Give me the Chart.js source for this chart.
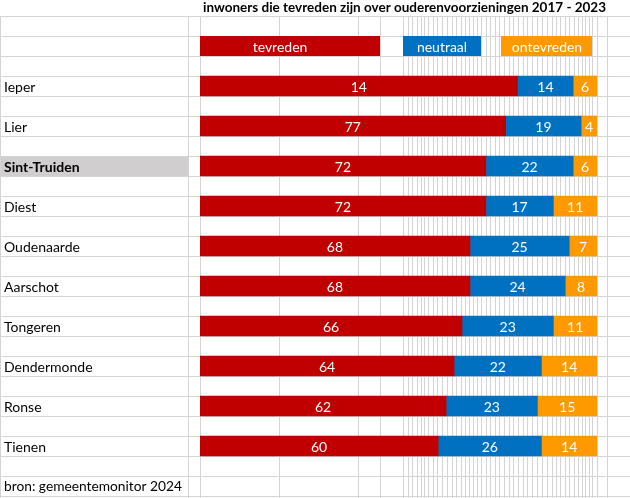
<!DOCTYPE html>
<html>
<head>
<meta charset="utf-8">
<script src="https://cdn.jsdelivr.net/npm/chart.js@4"></script>
<style>
  body { margin: 0; background: #fff; }
  canvas { display: block; }
</style>
</head>
<body>
<canvas id="myChart" width="630" height="498"></canvas>
<script>
const ctx = document.getElementById("myChart").getContext("2d");

const title = "inwoners die tevreden zijn over ouderenvoorzieningen 2017 - 2023";
const source = "bron: gemeentemonitor 2024";
const cities = ["Ieper", "Lier", "Sint-Truiden", "Diest", "Oudenaarde", "Aarschot", "Tongeren", "Dendermonde", "Ronse", "Tienen"];
const seriesNames = ["tevreden", "neutraal", "ontevreden"];
const tevreden = [80, 77, 72, 72, 68, 68, 66, 64, 62, 60];
// the sheet shows "14" on the Ieper bar, keep the shown text as is
const tevredenLabels = ["14", "77", "72", "72", "68", "68", "66", "64", "62", "60"];
const neutraal = [14, 19, 22, 17, 25, 24, 23, 22, 23, 26];
const ontevreden = [6, 4, 6, 11, 7, 8, 11, 14, 15, 14];
const highlight = "Sint-Truiden";

const colors = ["#C00000", "#0070C0", "#FF9900"];
const font = "Lato, 'Open Sans', sans-serif";

// spreadsheet look: cell borders
const colLines = [0, 188, 200, 279, 358, 380, 403, 408, 412, 417, 421, 424, 428, 433, 437, 442, 447, 452, 456, 461, 465, 469, 473, 477, 481, 486, 490, 495, 499, 504, 509, 513, 518, 523, 527, 532, 537, 542, 547, 552, 556, 560, 565, 569, 574, 578, 582, 585, 589, 592, 597, 607];

function fitFont(c, text, weight, width, maxSize) {
  let size = maxSize;
  c.font = weight + " " + size + "px " + font;
  while (c.measureText(text).width > width && size > 8) {
    size -= 0.25;
    c.font = weight + " " + size + "px " + font;
  }
}

const sheetPlugin = {
  id: "sheet",
  beforeDraw(chart) {
    const c = chart.ctx;
    const yScale = chart.scales.y;
    c.save();
    c.fillStyle = "#fff";
    c.fillRect(0, 0, chart.width, chart.height);

    // highlighted city cell
    const hi = cities.indexOf(highlight);
    const hy = yScale.getPixelForValue(hi);
    c.fillStyle = "#D0CECE";
    c.fillRect(0, hy - 10, 188, 20);

    c.strokeStyle = "#D4D4D4";
    c.lineWidth = 1;
    c.beginPath();
    for (let y = 16; y < chart.height; y += 20) {
      c.moveTo(0, y + 0.5);
      c.lineTo(chart.width, y + 0.5);
    }
    colLines.forEach((x) => {
      c.moveTo(x + 0.5, 16);
      c.lineTo(x + 0.5, chart.height);
    });
    c.stroke();

    // title row
    c.fillStyle = "#000";
    c.textBaseline = "middle";
    c.textAlign = "left";
    fitFont(c, title, "bold", 410, 15);
    c.fillText(title, 203, 8);

    // legend cells
    const legendCells = [[200, 380, 280], [403, 481, 442], [501, 592, 547]];
    legendCells.forEach((cell, i) => {
      c.fillStyle = colors[i];
      c.fillRect(cell[0], 36, cell[1] - cell[0], 20);
      c.fillStyle = "#fff";
      c.textAlign = "center";
      c.font = "14px " + font;
      c.fillText(seriesNames[i], cell[2], 47);
    });

    // city names
    c.fillStyle = "#000";
    c.textAlign = "left";
    cities.forEach((city, i) => {
      c.font = (city === highlight ? "bold " : "") + "14px " + font;
      c.fillText(city, 4, yScale.getPixelForValue(i) + 1);
    });
    fitFont(c, source, "", 180, 15);
    c.fillText(source, 4, 487);
    c.restore();
  },
  afterDatasetsDraw(chart) {
    const c = chart.ctx;
    c.save();
    c.fillStyle = "#fff";
    c.font = "14px " + font;
    c.textAlign = "center";
    c.textBaseline = "middle";
    chart.data.datasets.forEach((ds, d) => {
      chart.getDatasetMeta(d).data.forEach((bar, i) => {
        const text = d === 0 ? tevredenLabels[i] : String(ds.data[i]);
        c.fillText(text, (bar.x + bar.base) / 2, bar.y + 1);
      });
    });
    c.restore();
  },
};

const myChart = new Chart(ctx, {
  type: "bar",
  data: {
    labels: cities,
    datasets: [
      { label: seriesNames[0], data: tevreden, backgroundColor: colors[0] },
      { label: seriesNames[1], data: neutraal, backgroundColor: colors[1] },
      { label: seriesNames[2], data: ontevreden, backgroundColor: colors[2] },
    ],
  },
  options: {
    indexAxis: "y",
    responsive: false,
    animation: false,
    devicePixelRatio: 1,
    barThickness: 20,
    borderWidth: 0,
    layout: {
      padding: { left: 200, right: 33, top: 66, bottom: 32 },
    },
    scales: {
      x: { stacked: true, min: 0, max: 100, display: false },
      y: { stacked: true, display: false },
    },
    plugins: {
      legend: { display: false },
      tooltip: { enabled: false },
    },
  },
  plugins: [sheetPlugin],
});
</script>
</body>
</html>
